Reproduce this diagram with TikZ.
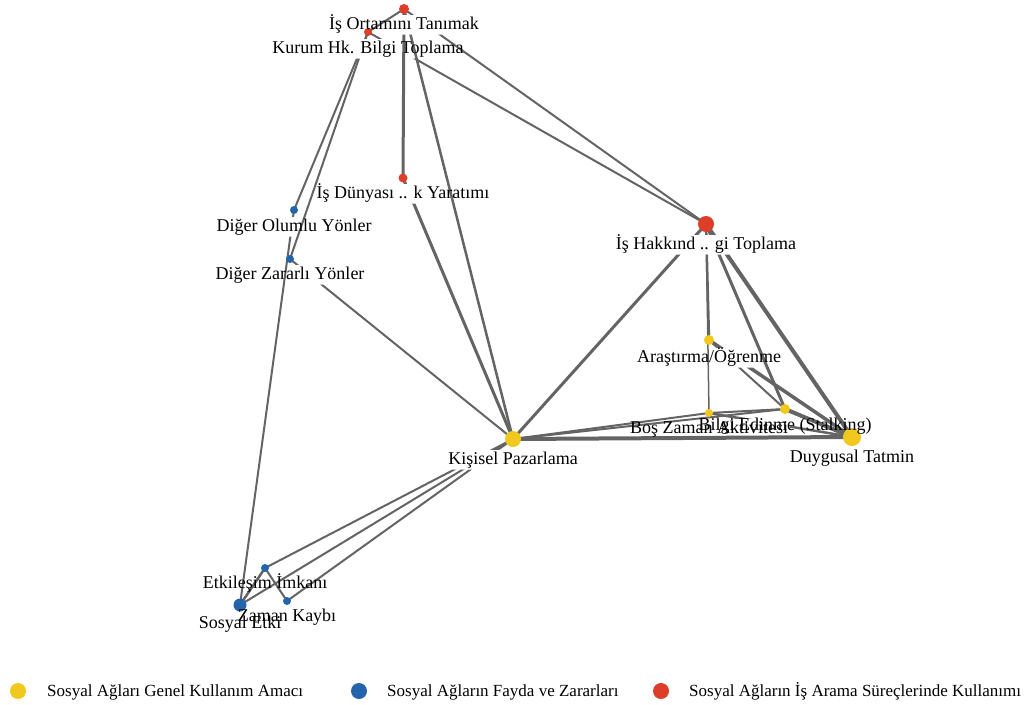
\documentclass[tikz,border=0pt]{standalone}
\usepackage{fontspec}
\setmainfont{Liberation Serif}
\usetikzlibrary{calc}
\pgfdeclarelayer{bg}
\pgfsetlayers{bg,main}
\definecolor{cy}{RGB}{240,200,30}
\definecolor{cb}{RGB}{35,100,170}
\definecolor{cr}{RGB}{221,62,42}
\definecolor{ce}{RGB}{100,100,100}
\tikzset{
  dotn/.style={circle, inner sep=0pt, draw=none},
  lbl/.style={anchor=base, inner sep=0pt, font=\fontsize{18}{20}\selectfont, text height=13pt, text depth=4.5pt},
  lgt/.style={anchor=base west, inner sep=0pt, font=\fontsize{17}{19}\selectfont},
  edgeln/.style={draw=ce, line cap=butt}
}
\newcommand{\myedge}[3]{%
  \begin{scope}[even odd rule]
    \clip (-50,-50) rectangle (1080,760)
      ([shift={(-2,-1)}]#1l.north west) rectangle ([shift={(2,1)}]#1l.south east);
    \draw[edgeln, line width=#3pt] (#1.center) -- (#2.center);
  \end{scope}}
\begin{document}
\begin{tikzpicture}[x=1pt,y=-1pt]
\useasboundingbox (0,0) rectangle (1030,704);
% nodes (dots)
\node[dotn, fill=cr, minimum size=10pt] (ort) at (404,9) {};
\node[dotn, fill=cr, minimum size=8pt] (kur) at (368,32) {};
\node[dotn, fill=cr, minimum size=9pt] (dun) at (403,178) {};
\node[dotn, fill=cr, minimum size=16pt] (hak) at (706,224) {};
\node[dotn, fill=cb, minimum size=8pt] (olu) at (294,210) {};
\node[dotn, fill=cb, minimum size=8pt] (zar) at (290,259) {};
\node[dotn, fill=cy, minimum size=10pt] (ara) at (709,340) {};
\node[dotn, fill=cy, minimum size=8pt] (bos) at (709,413) {};
\node[dotn, fill=cy, minimum size=10pt] (bil) at (785,409) {};
\node[dotn, fill=cy, minimum size=18pt] (duy) at (852,437) {};
\node[dotn, fill=cy, minimum size=16pt] (kis) at (513,439) {};
\node[dotn, fill=cb, minimum size=8pt] (etk) at (265,568) {};
\node[dotn, fill=cb, minimum size=8pt] (zam) at (287,601) {};
\node[dotn, fill=cb, minimum size=13pt] (sos) at (240,605) {};
% labels
\node[lbl] (ortl) at (404,29) {İş Ortamını Tanımak};
\node[lbl] (kurl) at (368,53) {Kurum Hk. Bilgi Toplama};
\node[lbl] (dunl) at (403,198) {İş Dünyası .. k Yaratımı};
\node[lbl] (hakl) at (706,249) {İş Hakkınd .. gi Toplama};
\node[lbl] (olul) at (294,231) {Diğer Olumlu Yönler};
\node[lbl] (zarl) at (290,279) {Diğer Zararlı Yönler};
\node[lbl] (aral) at (709,362) {Araştırma/Öğrenme};
\node[lbl] (bosl) at (709,433) {Boş Zaman Aktivitesi};
\node[lbl] (bill) at (785,430) {Bilgi Edinme (Stalking)};
\node[lbl] (duyl) at (852,462) {Duygusal Tatmin};
\node[lbl] (kisl) at (513,464) {Kişisel Pazarlama};
\node[lbl] (etkl) at (265,588) {Etkileşim İmkanı};
\node[lbl] (zaml) at (287,621) {Zaman Kaybı};
\node[lbl] (sosl) at (240,628) {Sosyal Etki};
% edges
\begin{pgfonlayer}{bg}
\myedge{kur}{ort}{2}
\myedge{ort}{dun}{3}
\myedge{ort}{kis}{2.5}
\myedge{ort}{hak}{2}
\myedge{kur}{hak}{2}
\myedge{kur}{olu}{2}
\myedge{kur}{zar}{2}
\myedge{dun}{kis}{3}
\myedge{olu}{sos}{2}
\myedge{zar}{kis}{2}
\myedge{hak}{kis}{3}
\myedge{hak}{ara}{2.5}
\myedge{hak}{bos}{1.5}
\myedge{hak}{bil}{3}
\myedge{hak}{duy}{4}
\myedge{ara}{bil}{2}
\myedge{ara}{duy}{3.5}
\myedge{bos}{bil}{2}
\myedge{bos}{duy}{2.5}
\myedge{duy}{bil}{4}
\myedge{kis}{bos}{2}
\myedge{kis}{bil}{2}
\myedge{kis}{duy}{4}
\myedge{kis}{etk}{2}
\myedge{kis}{sos}{2}
\myedge{kis}{zam}{2}
\myedge{sos}{etk}{2.5}
\myedge{zam}{etk}{2}
\end{pgfonlayer}
% legend
\node[dotn, fill=cy, minimum size=16pt] (lg1) at (18,691) {};
\node[lgt] (lg1t) at (47,696) {Sosyal Ağları Genel Kullanım Amacı};
\node[dotn, fill=cb, minimum size=16pt] (lg2) at (359,691) {};
\node[lgt] (lg2t) at (387,696) {Sosyal Ağların Fayda ve Zararları};
\node[dotn, fill=cr, minimum size=16pt] (lg3) at (661,691) {};
\node[lgt] (lg3t) at (689,696) {Sosyal Ağların İş Arama Süreçlerinde Kullanımı};
\end{tikzpicture}
\end{document}
